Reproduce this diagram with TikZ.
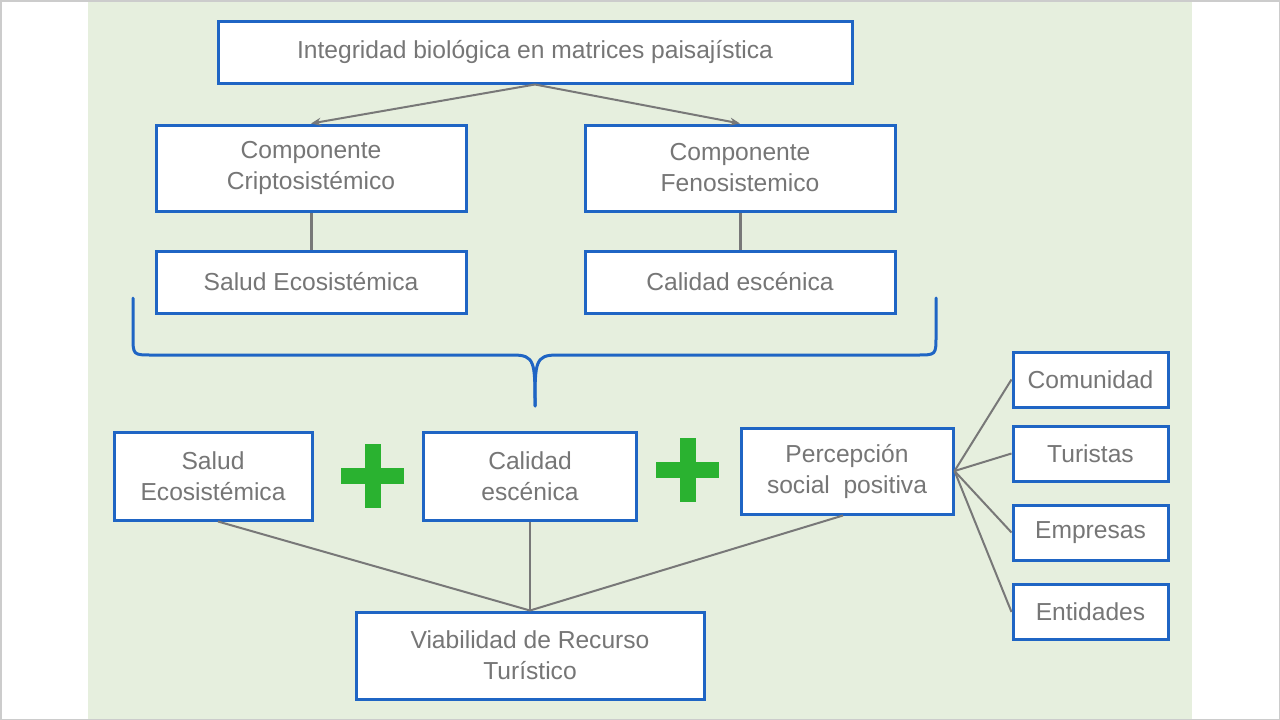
\documentclass[tikz,border=0pt]{standalone}
\usepackage{fontspec}
\setmainfont{Liberation Sans}
\usetikzlibrary{arrows.meta}

\definecolor{boxblue}{RGB}{31,101,196}
\definecolor{panelgreen}{RGB}{230,239,222}
\definecolor{plusgreen}{RGB}{42,178,48}
\definecolor{txtgray}{RGB}{118,118,118}
\definecolor{linegray}{RGB}{120,120,120}

\begin{document}
\begin{tikzpicture}[x=1pt, y=-1pt,
  blockbox/.style={draw=boxblue, line width=3pt, fill=white, text=txtgray,
    align=center, inner sep=0pt, font=\fontsize{24.6}{31}\selectfont},
  link/.style={draw=linegray, line width=2pt},
  plusbar/.style={fill=plusgreen}]
\useasboundingbox (0,0) rectangle (1280,720);
\fill[white] (0,0) rectangle (1280,720);
\fill[panelgreen] (88,0) rectangle (1192,720);
\draw[black!20, line width=1.5pt] (0.75,0.75) rectangle (1279.25,719.25);

% upper part
\node[blockbox, minimum width=634, minimum height=62] (integ) at (535,52)
  {Integridad biológica en matrices paisajística};
\node[blockbox, minimum width=310, minimum height=86] (cripto) at (311,168)
  {Componente\\Criptosistémico};
\node[blockbox, minimum width=310, minimum height=86] (feno) at (740,168)
  {Componente\\Fenosistemico};
\node[blockbox, minimum width=310, minimum height=62] (saludA) at (311,282)
  {Salud Ecosistémica};
\node[blockbox, minimum width=310, minimum height=62] (calidadA) at (740,282)
  {Calidad escénica};

\draw[link, -{Stealth[length=10pt, width=8pt]}] (integ.south) -- (cripto.north);
\draw[link, -{Stealth[length=10pt, width=8pt]}] (integ.south) -- (feno.north);
\draw[link, line width=3pt] (cripto.south) -- (saludA.north);
\draw[link, line width=3pt] (feno.south) -- (calidadA.north);

% brace
\draw[boxblue, line width=3pt, line cap=round]
     (133,298)
  -- (133,336) .. controls (133,355) .. (152,355)
  -- (513,355) .. controls (535,355) and (535,362) .. (535,406);
\draw[boxblue, line width=3pt, line cap=round]
     (936,298)
  -- (936,336) .. controls (936,355) .. (917,355)
  -- (557,355) .. controls (535,355) and (535,362) .. (535,406);

% lower part
\node[blockbox, minimum width=198, minimum height=88] (saludB) at (213,476)
  {Salud\\Ecosistémica};
\node[blockbox, minimum width=213, minimum height=88] (calidadB) at (530,476)
  {Calidad\\escénica};
\node[blockbox, minimum width=212, minimum height=86] (percep) at (847,471)
  {Percepción\\social\ \ positiva};
\node[blockbox, minimum width=348, minimum height=87] (viab) at (530,655.5)
  {Viabilidad de Recurso\\Turístico};

\foreach \name/\txt/\ypos in {comun/Comunidad/379.5, turis/Turistas/453.5,
    empre/Empresas/532.5, entid/Entidades/612}
{
  \node[blockbox, minimum width=155, minimum height=55] (\name) at (1090.5,\ypos) {\txt};
  \draw[link] (percep.east) -- (\name.west);
}

\draw[link] ([xshift=5pt]saludB.south) -- (viab.north);
\draw[link] (calidadB.south) -- (viab.north);
\draw[link] ([xshift=-4pt]percep.south) -- (viab.north);

% plus signs
\foreach \cx/\cy in {372.5/476, 687.5/470}
{
  \fill[plusgreen] (\cx-31.5,\cy-8) rectangle (\cx+31.5,\cy+8);
  \fill[plusgreen] (\cx-8,\cy-32) rectangle (\cx+8,\cy+32);
}
\end{tikzpicture}
\end{document}
